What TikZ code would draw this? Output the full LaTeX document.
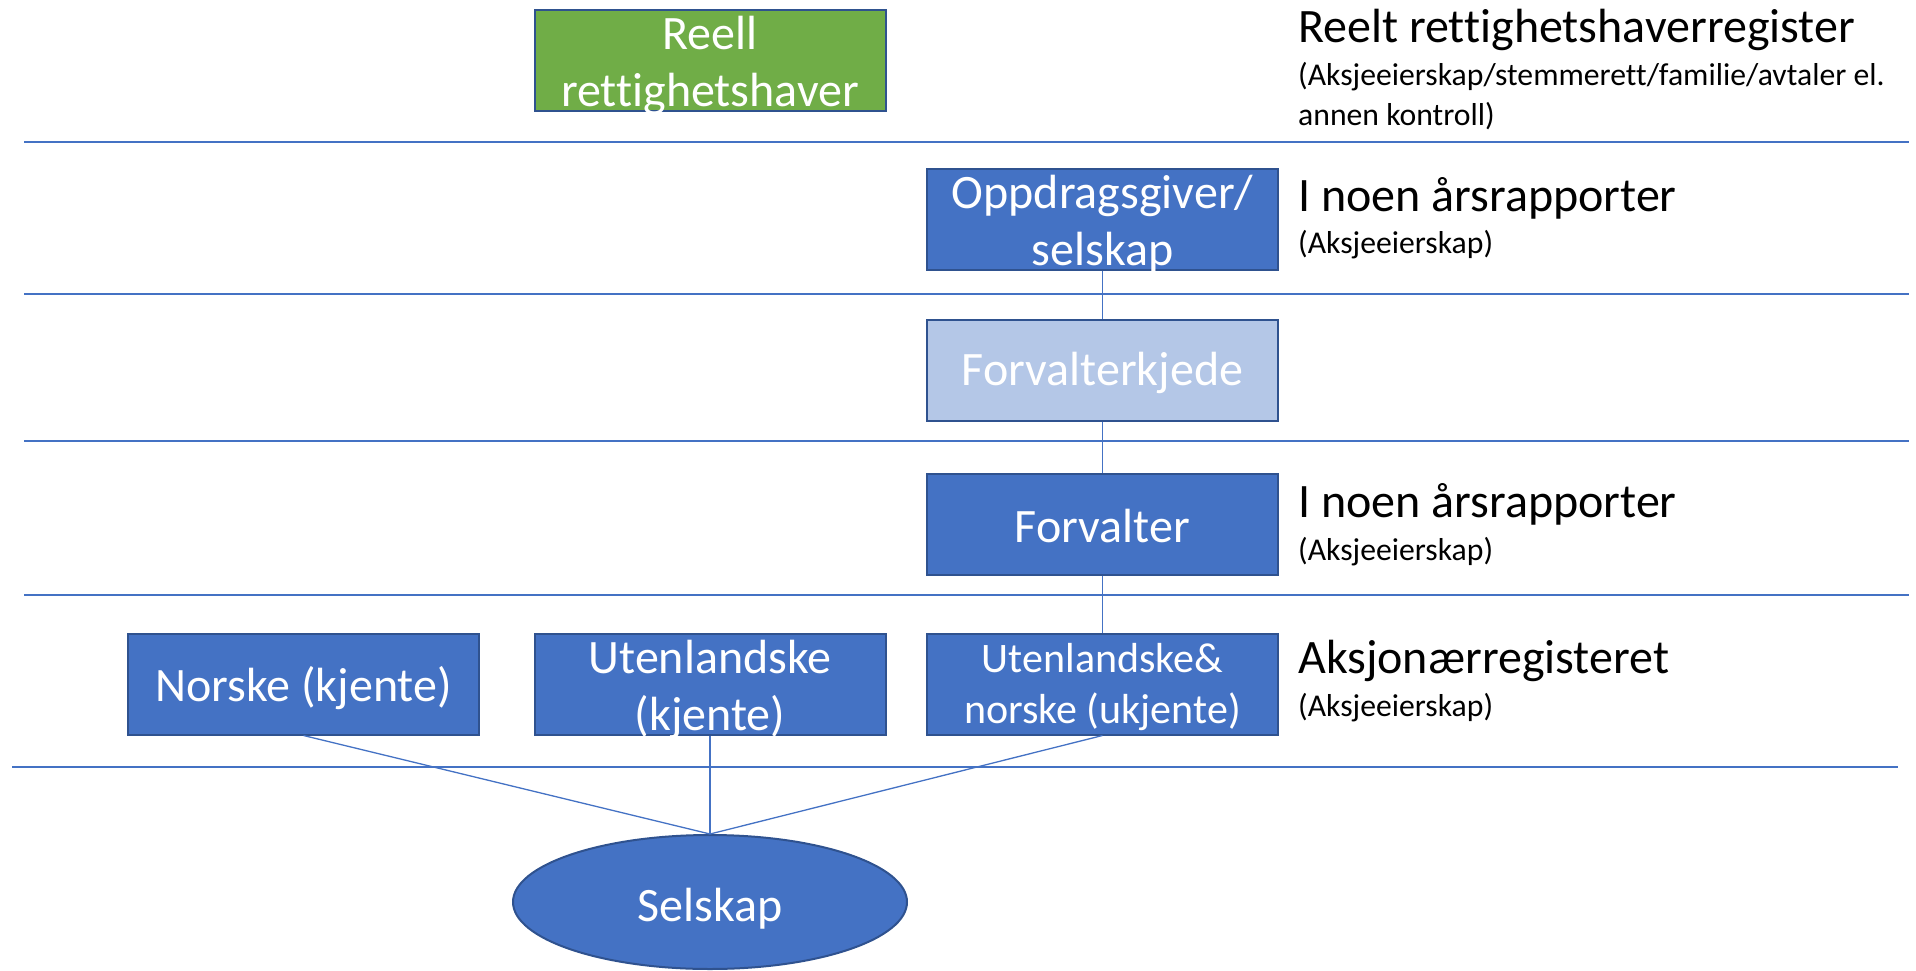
\documentclass[tikz,border=0pt]{standalone}
\usepackage{fontspec}
\setmainfont[Ligatures=NoCommon]{Carlito}
\usetikzlibrary{shapes.geometric}
\definecolor{obox}{HTML}{4472C4}
\definecolor{oborder}{HTML}{2F528F}
\definecolor{ogreen}{HTML}{70AD47}
\definecolor{olight}{HTML}{B4C7E7}
\begin{document}
\begin{tikzpicture}[x=1pt,y=-1pt,
  box/.style={draw=oborder, line width=2pt, fill=obox,
    minimum width=351pt, minimum height=101pt, inner sep=0pt},
  boxtext/.style={text=white, align=center, inner sep=0pt, yshift=-5pt,
    font=\fontsize{48}{57}\selectfont},
  sep/.style={draw=obox, line width=1.5pt},
  conn/.style={draw=obox, line width=1.3pt},
  big/.style={anchor=base west, inner sep=0pt, font=\fontsize{48}{57}\selectfont},
  small/.style={anchor=base west, inner sep=0pt, font=\fontsize{31.7}{39}\selectfont}]
\useasboundingbox (0,0) rectangle (1916,971);

% separator lines
\coordinate (l1a) at (24,142);  \coordinate (l1b) at (1909,142);
\coordinate (l2a) at (24,294);  \coordinate (l2b) at (1909,294);
\coordinate (l3a) at (24,441);  \coordinate (l3b) at (1909,441);
\coordinate (l4a) at (24,595);  \coordinate (l4b) at (1909,595);
\coordinate (l5a) at (12,767);  \coordinate (l5b) at (1898,767);
\draw[sep] (l1a) -- (l1b);
\draw[sep] (l2a) -- (l2b);
\draw[sep] (l3a) -- (l3b);
\draw[sep] (l4a) -- (l4b);
\draw[sep] (l5a) -- (l5b);

% boxes
\node[box, fill=ogreen, label={[boxtext]center:Reell\\rettighetshaver}] (reell) at (710,60.5) {};
\node[box, label={[boxtext]center:Oppdragsgiver/\\selskap}] (oppd) at (1102.5,219) {};
\node[box, fill=olight, label={[boxtext, yshift=2pt]center:Forvalterkjede}] (fkj) at (1102.5,370) {};
\node[box, label={[boxtext, yshift=3pt]center:Forvalter}] (forv) at (1102.5,524) {};
\node[box, label={[boxtext, yshift=1pt]center:Norske (kjente)}] (norske) at (303.5,684) {};
\node[box, label={[boxtext]center:Utenlandske\\(kjente)}] (utl) at (710,684) {};
\node[box, label={[boxtext, yshift=2pt, font=\fontsize{42}{51}\selectfont]center:Utenlandske\&\\norske (ukjente)}] (ukj) at (1102.5,684) {};
\node[ellipse, draw=oborder, line width=2pt, fill=obox,
  minimum width=394pt, minimum height=134pt, inner sep=0pt,
  label={[boxtext, yshift=-2pt]center:Selskap}] (selskap) at (710,902) {};

% connectors
\draw[conn] (oppd.south) -- (fkj.north);
\draw[conn] (fkj.south) -- (forv.north);
\draw[conn] (forv.south) -- (ukj.north);
\draw[conn] (norske.south) -- (selskap.north);
\draw[conn] (utl.south) -- (selskap.north);
\draw[conn] (ukj.south) -- (selskap.north);

% right column texts
\node[big] (t1) at (1298,43) {Reelt rettighetshaverregister};
\node[small] (t1a) at (1298,86) {(Aksjeeierskap/stemmerett/familie/avtaler el.};
\node[small] (t1b) at (1298,125) {annen kontroll)};
\node[big] (t2) at (1298,211) {I noen årsrapporter};
\node[small] (t2a) at (1298,253) {(Aksjeeierskap)};
\node[big] (t3) at (1298,517) {I noen årsrapporter};
\node[small] (t3a) at (1298,560) {(Aksjeeierskap)};
\node[big] (t4) at (1298,673) {Aksjonærregisteret};
\node[small] (t4a) at (1298,716) {(Aksjeeierskap)};
\end{tikzpicture}
\end{document}
